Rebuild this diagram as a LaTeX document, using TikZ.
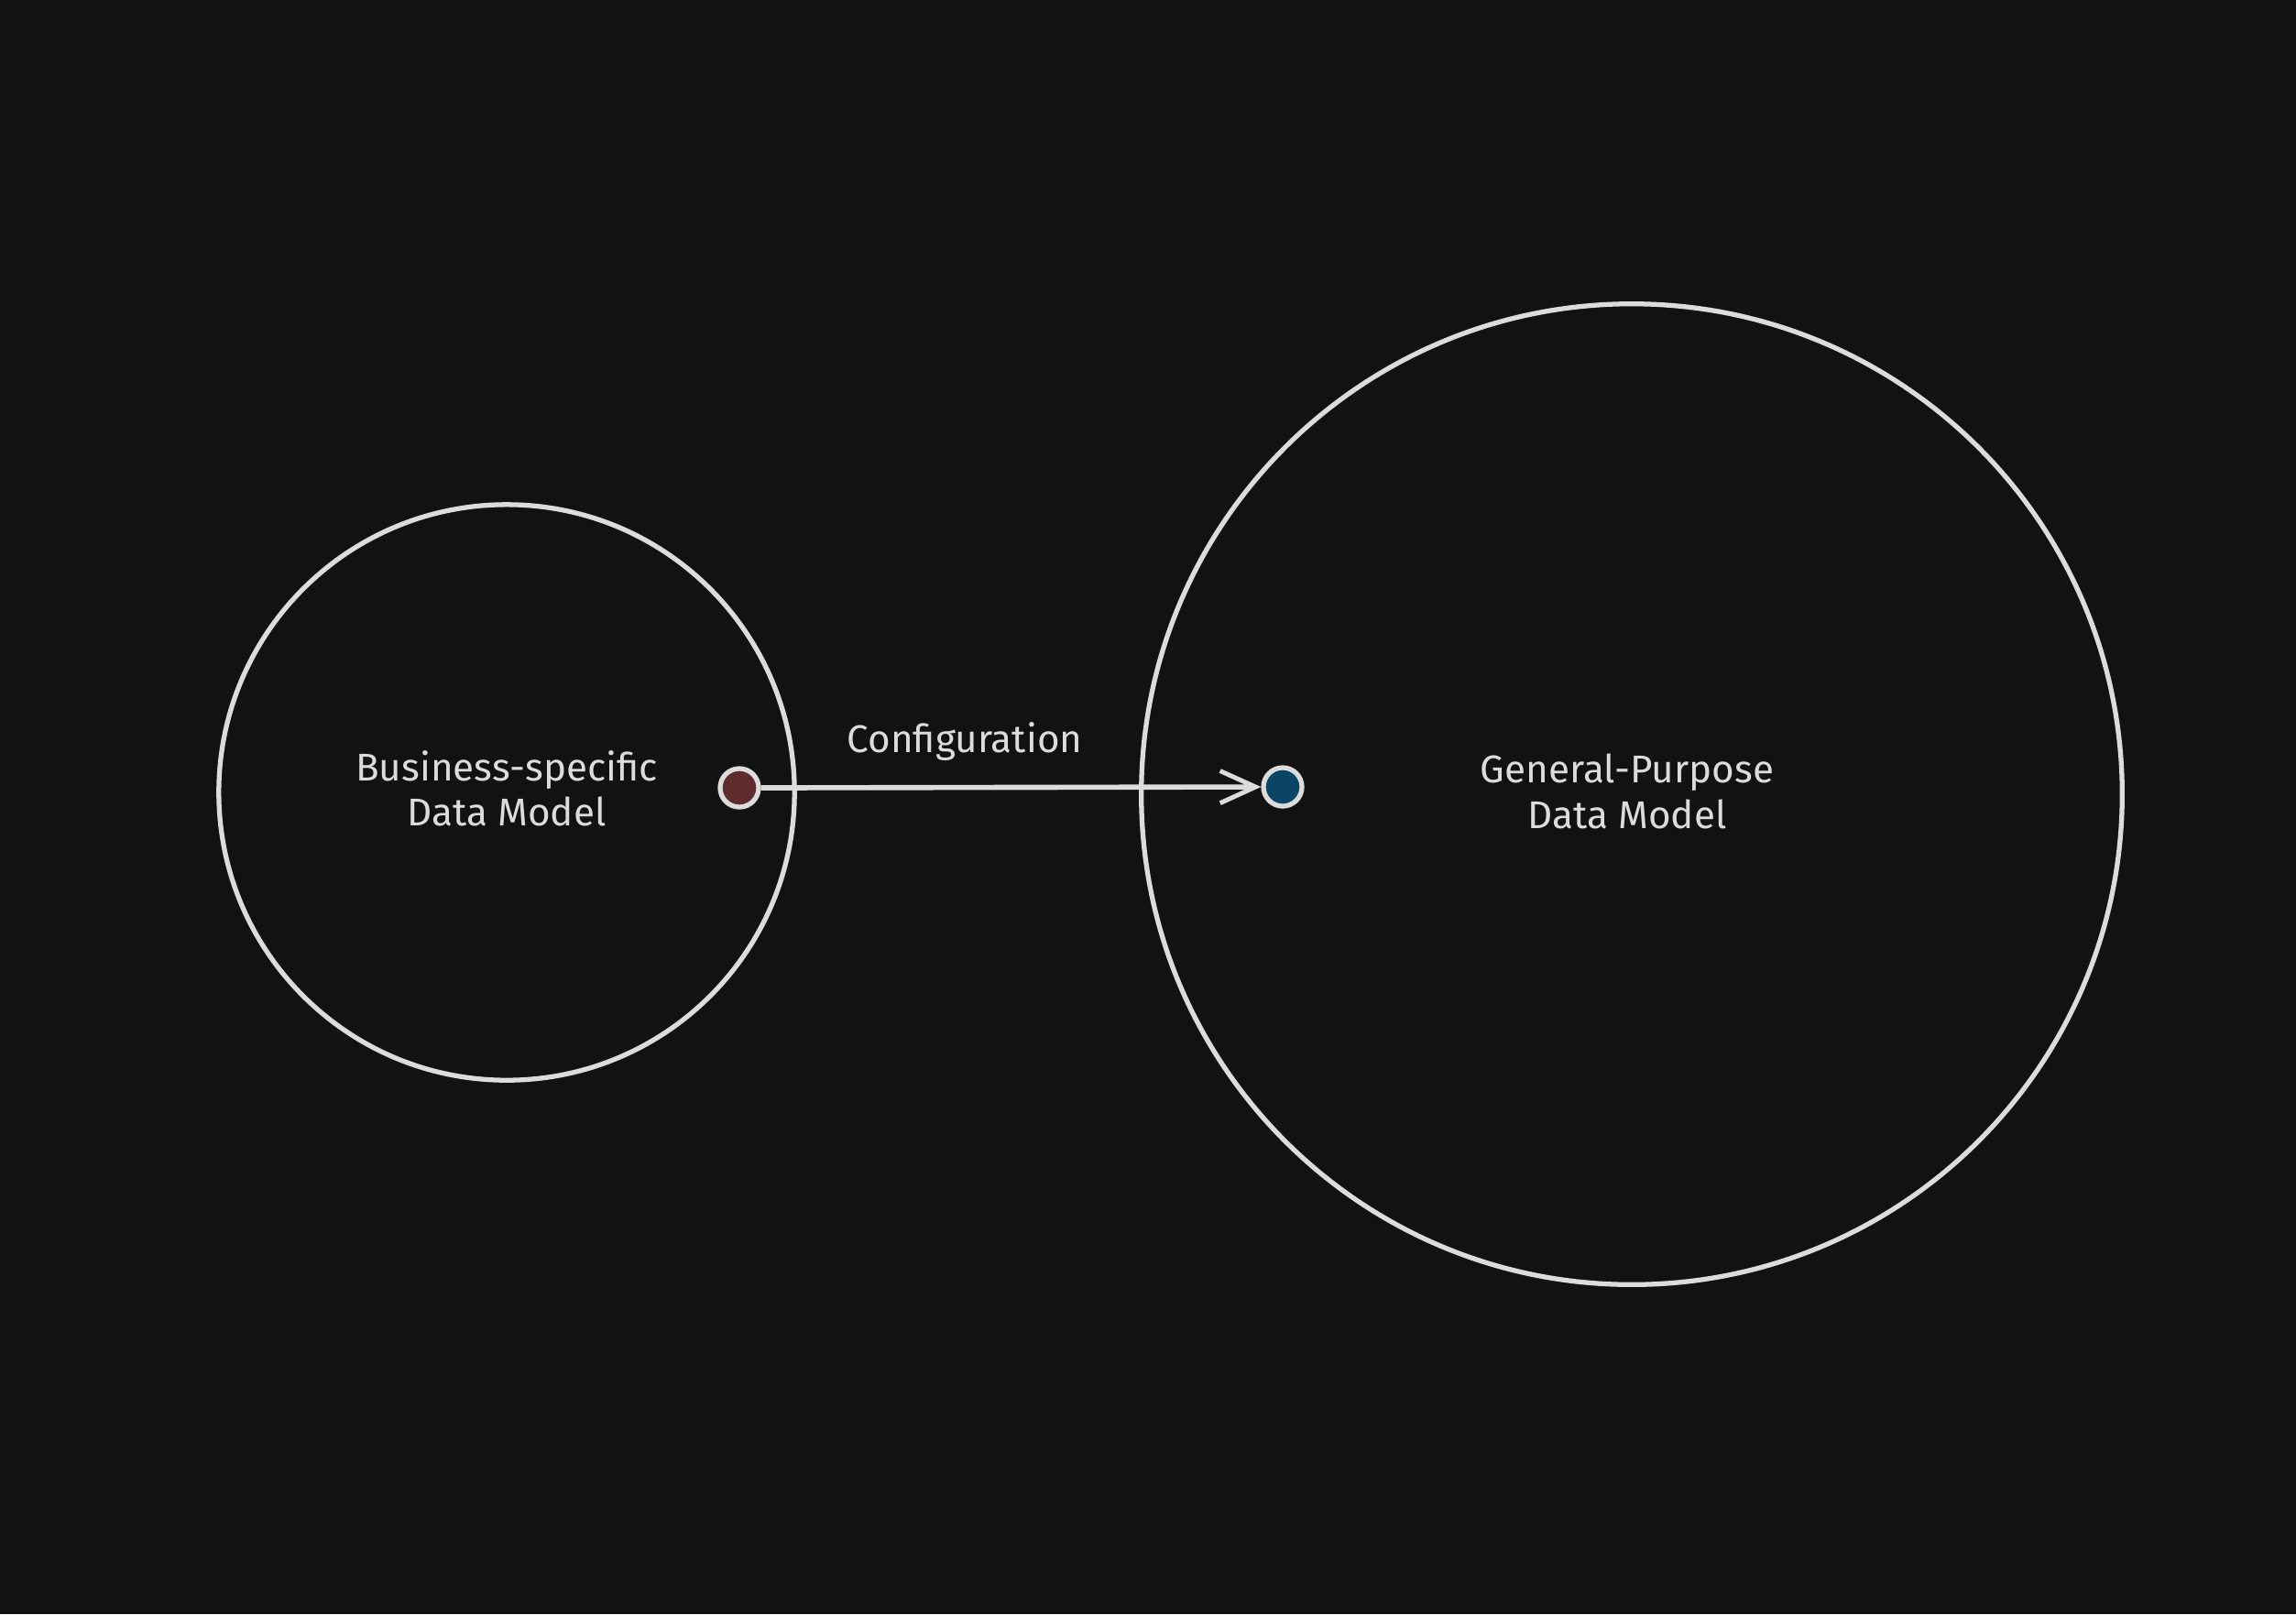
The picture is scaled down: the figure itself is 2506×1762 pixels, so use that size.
\documentclass[tikz,border=0pt]{standalone}
\usepackage{fontspec}
\setmainfont{Fira Sans}
\usetikzlibrary{arrows.meta}
\definecolor{bg}{HTML}{121212}
\definecolor{ink}{HTML}{DCDCDC}
\definecolor{reddot}{HTML}{5E2C2C}
\definecolor{bluedot}{HTML}{0B4566}
\tikzset{
  ring/.style={circle, draw=ink, line width=1.5pt, inner sep=0pt},
  port/.style={circle, draw=ink, line width=1.5pt, minimum size=0.42cm, inner sep=0pt},
  lbl/.style={text=ink, font=\fontsize{12}{14}\selectfont, align=center},
  conn/.style={draw=ink, line width=1.6pt, -{Straight Barb[length=11pt,width=10pt,line width=1.4pt]}}
}
\begin{document}
\begin{tikzpicture}[x=0.01cm,y=-0.01cm]
\fill[bg] (0,0) rectangle (2506,1762);
\useasboundingbox (0,0) rectangle (2506,1762);
\node[ring, minimum size=6.28cm] (bs) at (553,865) {};
\node[ring, minimum size=10.7cm] (gp) at (1781,867) {};
\node[lbl] (bst) at (553,861) {Business-specific\\Data Model};
\node[lbl] (gpt) at (1776,864) {General-Purpose\\Data Model};
\node[port, fill=reddot] (src) at (807,860) {};
\node[port, fill=bluedot] (dst) at (1400,859) {};
\draw[conn] (src.east) -- (dst.west);
\node[lbl] (cfg) at (1053,810) {Configuration};
\end{tikzpicture}
\end{document}
